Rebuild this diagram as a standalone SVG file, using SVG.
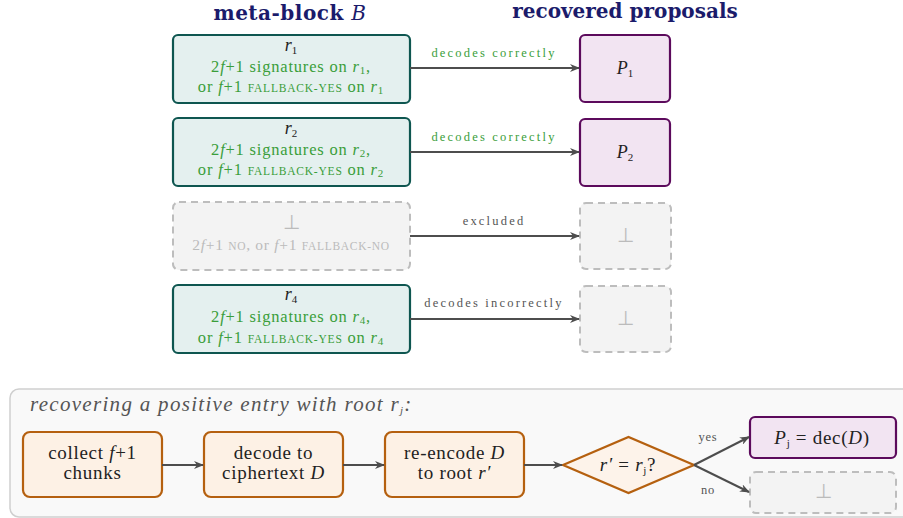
<svg xmlns="http://www.w3.org/2000/svg" width="903" height="518" viewBox="0 0 903 518">
<defs>
<marker id="ah" viewBox="0 0 10 8" refX="9" refY="4" markerWidth="10" markerHeight="8" markerUnits="userSpaceOnUse" orient="auto">
<path d="M0,0 L10,4 L0,8 L3,4 z" fill="#4d4d4d"/>
</marker>
<style>
text{text-anchor:middle}
.title{font-weight:bold;font-size:20px;fill:#1b1b6b}
.teal{fill:#e4f0ef;stroke:#0e5650;stroke-width:2.2}
.purp{fill:#f2e4f2;stroke:#5c0a5c;stroke-width:2.2}
.gray{fill:#f3f3f3;stroke:#bdbdbd;stroke-width:2;stroke-dasharray:7,5}
.orng{fill:#fdf1e5;stroke:#b5600f;stroke-width:2.2}
.hd{font-size:18px;fill:#222}
.g{font-size:16.5px;fill:#3a9e3a;letter-spacing:0.8px}
.gt{font-size:15.5px;fill:#bbbbbb;letter-spacing:0.7px}
.bot{font-size:20px;fill:#bbbbbb}
.lbl{font-size:12.5px;letter-spacing:2.2px}
.lg{fill:#3a9e3a}
.ld{fill:#555}
.i{font-style:italic}
.sub{font-size:11px}
.sc{font-size:11.5px}
.bx{font-size:19px;fill:#222;letter-spacing:0.7px}
.cap{font-size:21px;font-style:italic;fill:#555;text-anchor:start;letter-spacing:1.3px}
.yn{font-size:12.5px;fill:#555;letter-spacing:0.8px}
.conn line{stroke:#4d4d4d;stroke-width:2;fill:none;marker-end:url(#ah)}
</style>
</defs>
<rect width="903" height="518" fill="#ffffff"/>
<g font-family="Liberation Serif, Times New Roman, serif">

<text class="title" x="290" y="20" font-family="DejaVu Serif, serif" letter-spacing="0.5">meta-block <tspan class="i" font-weight="normal">B</tspan></text>
<text class="title" x="625" y="18" font-family="DejaVu Serif, serif">recovered proposals</text>

<g id="r1">
<rect class="teal" x="173" y="35" width="237" height="68" rx="5"/>
<text class="hd" x="291" y="51"><tspan class="i">r</tspan><tspan class="sub" dy="3">1</tspan></text>
<text class="g" x="291" y="72">2<tspan class="i">f</tspan>+1 signatures on <tspan class="i">r</tspan><tspan class="sub" dy="2">1</tspan><tspan dy="-2">,</tspan></text>
<text class="g" x="291" y="92">or <tspan class="i">f</tspan>+1 <tspan class="sc">FALLBACK-YES</tspan> on <tspan class="i">r</tspan><tspan class="sub" dy="2">1</tspan></text>
</g>
<g id="r2">
<rect class="teal" x="173" y="118" width="237" height="68" rx="5"/>
<text class="hd" x="291" y="134"><tspan class="i">r</tspan><tspan class="sub" dy="3">2</tspan></text>
<text class="g" x="291" y="155">2<tspan class="i">f</tspan>+1 signatures on <tspan class="i">r</tspan><tspan class="sub" dy="2">2</tspan><tspan dy="-2">,</tspan></text>
<text class="g" x="291" y="175">or <tspan class="i">f</tspan>+1 <tspan class="sc">FALLBACK-YES</tspan> on <tspan class="i">r</tspan><tspan class="sub" dy="2">2</tspan></text>
</g>
<g id="r3">
<rect class="gray" x="173" y="202" width="237" height="68" rx="6"/>
<text class="bot" x="291" y="229">⊥</text>
<text class="gt" x="291" y="250">2<tspan class="i">f</tspan>+1 <tspan class="sc">NO</tspan>, or <tspan class="i">f</tspan>+1 <tspan class="sc">FALLBACK-NO</tspan></text>
</g>
<g id="r4">
<rect class="teal" x="173" y="285" width="237" height="68" rx="5"/>
<text class="hd" x="291" y="300"><tspan class="i">r</tspan><tspan class="sub" dy="3">4</tspan></text>
<text class="g" x="291" y="322">2<tspan class="i">f</tspan>+1 signatures on <tspan class="i">r</tspan><tspan class="sub" dy="2">4</tspan><tspan dy="-2">,</tspan></text>
<text class="g" x="291" y="343">or <tspan class="i">f</tspan>+1 <tspan class="sc">FALLBACK-YES</tspan> on <tspan class="i">r</tspan><tspan class="sub" dy="2">4</tspan></text>
</g>

<g id="p1">
<rect class="purp" x="580" y="35" width="90" height="67" rx="5"/>
<text class="hd" x="625" y="74" font-size="20"><tspan class="i">P</tspan><tspan class="sub" dy="3">1</tspan></text>
</g>
<g id="p2">
<rect class="purp" x="580" y="119" width="90" height="67" rx="5"/>
<text class="hd" x="625" y="158" font-size="20"><tspan class="i">P</tspan><tspan class="sub" dy="3">2</tspan></text>
</g>
<g id="p3">
<rect class="gray" x="580" y="203" width="91" height="66" rx="6"/>
<text class="bot" x="625" y="242">⊥</text>
</g>
<g id="p4">
<rect class="gray" x="580" y="286" width="91" height="66" rx="6"/>
<text class="bot" x="625" y="325">⊥</text>
</g>

<g id="panel">
<rect x="10" y="389" width="905" height="128" rx="9" fill="#f9f9f9" stroke="#cfcfcf" stroke-width="1.5"/>
<text class="cap" x="30" y="411">recovering a positive entry with root <tspan>r</tspan><tspan class="sub" dy="3">j</tspan><tspan dy="-3">:</tspan></text>
</g>

<g id="collect">
<rect class="orng" x="23" y="432" width="139" height="65" rx="7"/>
<text class="bx" x="92.5" y="459">collect <tspan class="i">f</tspan>+1</text>
<text class="bx" x="92.5" y="479">chunks</text>
</g>
<g id="decode">
<rect class="orng" x="204" y="432" width="139" height="65" rx="7"/>
<text class="bx" x="273.5" y="459">decode to</text>
<text class="bx" x="273.5" y="479">ciphertext <tspan class="i">D</tspan></text>
</g>
<g id="reencode">
<rect class="orng" x="385" y="432" width="139" height="65" rx="7"/>
<text class="bx" x="454.5" y="459">re-encode <tspan class="i">D</tspan></text>
<text class="bx" x="454.5" y="479">to root <tspan class="i">r′</tspan></text>
</g>
<g id="check">
<polygon points="563,465 628.5,437 694,465 628.5,493" fill="#fdf3ea" stroke="#b5600f" stroke-width="2.2"/>
<text class="bx" x="628" y="471" letter-spacing="1.5"><tspan class="i">r′</tspan> = <tspan class="i">r</tspan><tspan class="sub" dy="3">j</tspan><tspan dy="-3">?</tspan></text>
</g>
<g id="pj">
<rect class="purp" x="750" y="417" width="146" height="41" rx="5"/>
<text class="bx" x="822" y="444" letter-spacing="1.3"><tspan class="i">P</tspan><tspan class="sub" dy="3">j</tspan><tspan dy="-3"> = dec(</tspan><tspan class="i">D</tspan>)</text>
</g>
<g id="fail">
<rect class="gray" x="750" y="472" width="146" height="41" rx="6"/>
<text class="bot" x="823" y="498">⊥</text>
</g>

<g class="conn" id="connectors">
<line x1="410" y1="68" x2="579" y2="68"/>
<line x1="410" y1="152" x2="579" y2="152"/>
<line x1="410" y1="236" x2="579" y2="236"/>
<line x1="410" y1="319" x2="579" y2="319"/>
<line x1="162" y1="465" x2="203" y2="465"/>
<line x1="343" y1="465" x2="384" y2="465"/>
<line x1="524" y1="465" x2="562" y2="465"/>
<line x1="694" y1="465" x2="749" y2="437"/>
<line x1="694" y1="465" x2="749" y2="492"/>
</g>
<text class="lbl lg" x="494" y="57">decodes correctly</text>
<text class="lbl lg" x="494" y="141">decodes correctly</text>
<text class="lbl ld" x="494" y="225">excluded</text>
<text class="lbl ld" x="494" y="307">decodes incorrectly</text>
<text class="yn" x="708" y="441">yes</text>
<text class="yn" x="708" y="494">no</text>
</g>
</svg>
